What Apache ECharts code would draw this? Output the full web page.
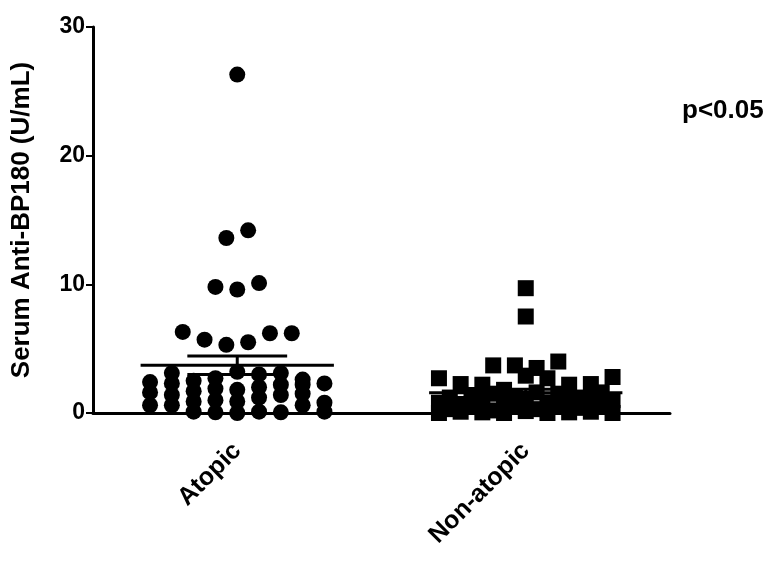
<!DOCTYPE html>
<html>
<head>
<meta charset="utf-8">
<script src="https://cdn.jsdelivr.net/npm/echarts@6/dist/echarts.min.js"></script>
<style>
html,body{margin:0;padding:0;background:#fff;}
#chart{width:775px;height:562px;}
</style>
</head>
<body>
<div id="chart"></div>
<script>
// ---- data (U/mL) ----
const categories = ['Atopic', 'Non-atopic'];
const atopicValues = [
  0.6, 0.6, 0.1, 0.05, 0.0, 0.1, 0.05, 0.6, 0.1,
  1.6, 1.4, 0.9, 1.0, 0.9, 1.2, 1.4, 1.5, 0.8,
  2.4, 2.3, 1.7, 1.9, 1.8, 2.0, 2.2, 2.2, 2.3,
  3.1, 2.5, 2.7, 3.2, 3.0, 3.1, 2.6,
  6.3, 5.7, 5.3, 5.5, 6.2, 6.2,
  9.8, 9.6, 10.1,
  13.6, 14.2,
  26.3
];
const nonAtopicValues = [
  0.0, 0.1, 0.05, 0.0, 0.15, 0.0, 0.05, 0.1, 0.0,
  0.3, 0.5, 0.2, 0.6, 0.3, 0.6, 0.4, 0.5,
  0.8, 0.7, 1.0, 0.9, 1.1, 0.8, 1.0, 0.9, 1.0,
  1.2, 1.4, 1.5, 1.3, 1.6, 1.5, 1.2, 1.6,
  2.7, 2.25, 2.2, 1.8, 2.9, 2.7, 2.2, 2.25, 2.8,
  3.7, 3.7, 3.5, 4.0,
  7.5,
  9.7
];
const yMin = 0, yMax = 30, yInterval = 10;
const pLabel = 'p<0.05';

// ---- layout ----
const W = 775, H = 562;
const grid = { left: 93, right: 105, top: 27, bottom: 149 };
const pxPerX = (W - grid.left - grid.right) / 2;
const pxPerY = (H - grid.top - grid.bottom) / (yMax - yMin);
const FONT = '"Liberation Sans", Arial, Helvetica, sans-serif';

// Prism-like column scatter: sorted values are grouped into rows
// (max count per row, max vertical span), each row spread out horizontally and centred.
function columnScatter(values, center, spacingPx, rowCounts, maxSpanPx) {
  const idx = values.map((v, i) => i).sort((a, b) => values[a] - values[b] || a - b);
  const rows = [];
  let cur = [];
  for (const i of idx) {
    const limit = rowCounts[rows.length % rowCounts.length];
    if (cur.length && (cur.length >= limit || (values[i] - values[cur[0]]) * pxPerY > maxSpanPx)) {
      rows.push(cur); cur = [];
    }
    cur.push(i);
  }
  if (cur.length) rows.push(cur);
  const out = [];
  for (const row of rows) {
    row.sort((a, b) => a - b);
    const n = row.length;
    row.forEach((i, j) => {
      const dxPx = (j - (n - 1) / 2) * spacingPx;
      out.push([center + dxPx / pxPerX, values[i]]);
    });
  }
  return out;
}
function stats(values, center) {
  const n = values.length;
  const mean = values.reduce((a, b) => a + b, 0) / n;
  const sd = Math.sqrt(values.reduce((a, b) => a + (b - mean) ** 2, 0) / (n - 1));
  return [center, mean, sd / Math.sqrt(n)];
}

const atopicPts = columnScatter(atopicValues, 0.5, 21.8, [9], 16);
const nonPts = columnScatter(nonAtopicValues, 1.5, 21.7, [9, 8], 16);
const barData = [stats(atopicValues, 0.5), stats(nonAtopicValues, 1.5)];

const chart = echarts.init(document.getElementById('chart'), null, { renderer: 'canvas' });
chart.setOption({
  animation: false,
  backgroundColor: '#fff',
  grid: grid,
  xAxis: [{
    type: 'category',
    data: categories,
    axisLine: { show: true, onZero: false, lineStyle: { color: '#000', width: 3 } },
    axisTick: { show: true, alignWithLabel: true, length: 5, lineStyle: { color: '#000', width: 2 } },
    axisLabel: { rotate: 45, margin: 34, color: '#000', fontWeight: 'bold', fontSize: 25, fontFamily: FONT },
    splitLine: { show: false }
  }, {
    type: 'value', min: 0, max: 2, show: false
  }],
  yAxis: {
    type: 'value', min: yMin, max: yMax, interval: yInterval,
    name: 'Serum Anti-BP180 (U/mL)',
    nameLocation: 'middle', nameRotate: 90, nameGap: 58,
    nameTextStyle: { color: '#000', fontWeight: 'bold', fontSize: 26, fontFamily: FONT },
    axisLine: { show: true, lineStyle: { color: '#000', width: 3 } },
    axisTick: { show: true, length: 7, lineStyle: { color: '#000', width: 2 } },
    axisLabel: { margin: 8, color: '#000', fontWeight: 'bold', fontSize: 23, fontFamily: FONT },
    splitLine: { show: false }
  },
  graphic: [{
    type: 'text', left: 682, top: 98,
    style: { text: pLabel, font: 'bold 26px ' + FONT, fill: '#000' }
  }],
  series: [{
    type: 'scatter', xAxisIndex: 1, data: atopicPts,
    symbol: 'circle', symbolSize: 16, itemStyle: { color: '#000', opacity: 1 }
  }, {
    type: 'scatter', xAxisIndex: 1, data: nonPts,
    symbol: 'rect', symbolSize: 16, itemStyle: { color: '#000', opacity: 1 }
  }, {
    type: 'custom', xAxisIndex: 1, data: barData, z: 5,
    renderItem: function (params, api) {
      const c = api.value(0), m = api.value(1), s = api.value(2);
      const style = { stroke: '#000', lineWidth: 3 };
      const seg = (x1, y1, x2, y2) => {
        const a = api.coord([x1, y1]), b = api.coord([x2, y2]);
        return { type: 'line', shape: { x1: a[0], y1: a[1], x2: b[0], y2: b[1] }, style: style };
      };
      return {
        type: 'group',
        children: [
          seg(c - 0.335, m, c + 0.335, m),
          seg(c - 0.173, m + s, c + 0.173, m + s),
          seg(c - 0.173, m - s, c + 0.173, m - s),
          seg(c, m - s, c, m + s)
        ]
      };
    }
  }]
});
</script>
</body>
</html>
